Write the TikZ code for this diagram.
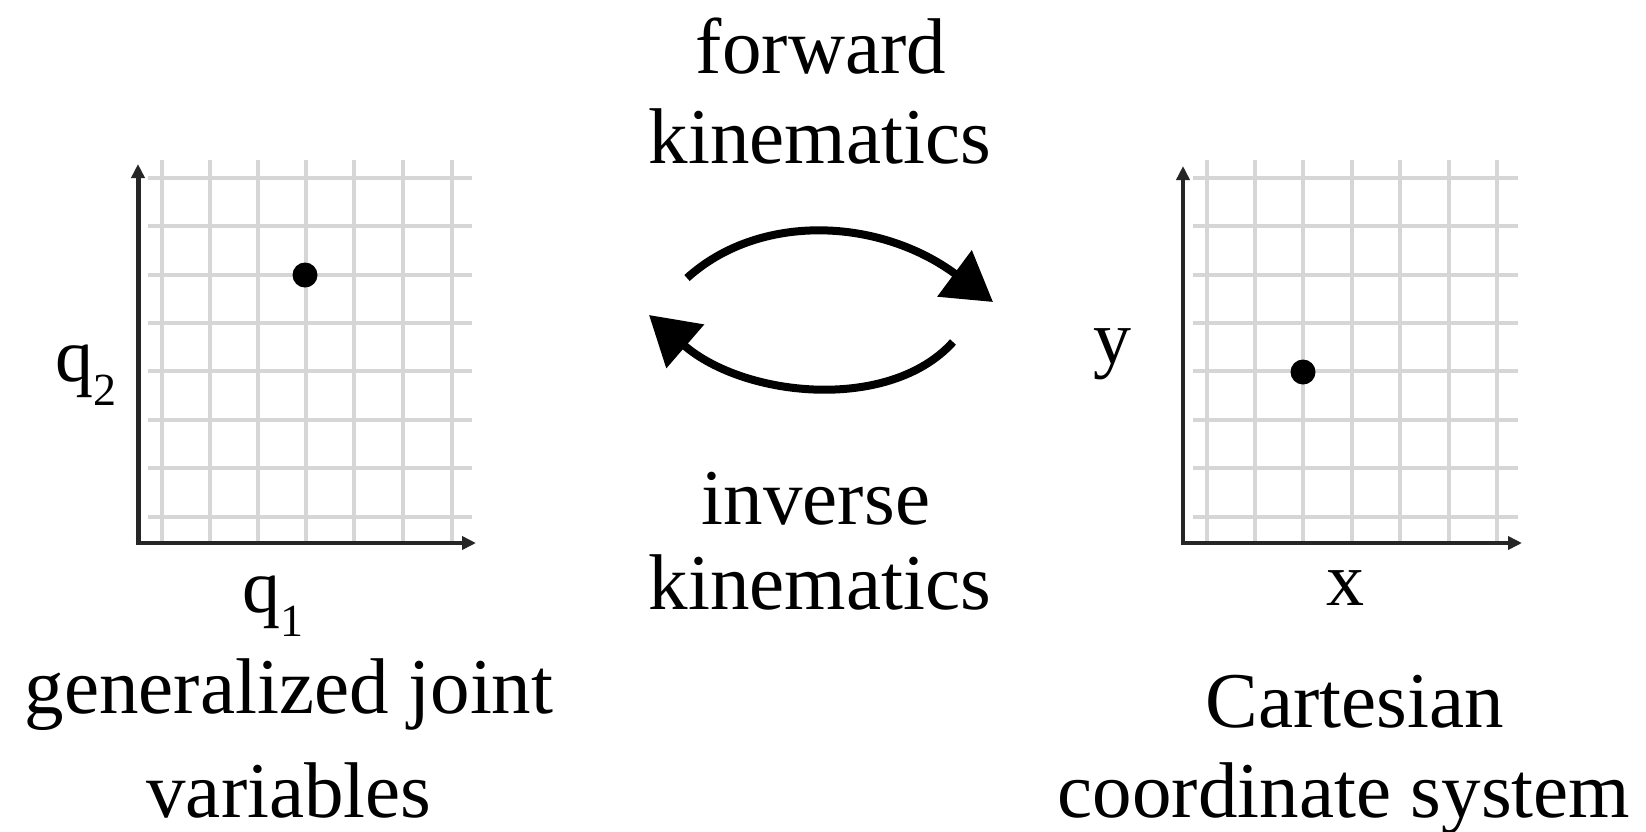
\documentclass[tikz,border=0pt]{standalone}
\usepackage{fontspec}
\setmainfont{Liberation Serif}
\usetikzlibrary{arrows.meta}
\begin{document}
\begin{tikzpicture}[x=1pt,y=-1pt,
  gridline/.style={draw=black!16,line width=3.5pt},
  axisline/.style={draw=black!85,line width=5pt,-{Triangle[length=14pt,width=13pt]}},
  bigarrow/.style={draw=black,line width=8pt,-{Triangle[length=48pt,width=56pt]}},
  lbl/.style={inner sep=0pt,anchor=base,font=\fontsize{79}{90}\selectfont},
  axlbl/.style={inner sep=0pt,font=\fontsize{76}{90}\selectfont},
  dot/.style={circle,fill=black,inner sep=0pt,minimum size=25pt}]
\useasboundingbox[fill=white] (0,0) rectangle (1646,831);
% left grid
\foreach \x in {162,210,258,306,354,403,452} \draw[gridline] (\x,160) -- (\x,541);
\foreach \y in {178,226,275,323,371,420,468,517} \draw[gridline] (148,\y) -- (472,\y);
% right grid
\foreach \x in {1207,1255,1303,1352,1400,1449,1497} \draw[gridline] (\x,160) -- (\x,541);
\foreach \y in {178,226,275,323,371,420,468,517} \draw[gridline] (1193,\y) -- (1518,\y);
% axes
\coordinate (lo) at (138,543);
\coordinate (ly) at (138,164);
\coordinate (lx) at (476,543);
\coordinate (ro) at (1183,543);
\coordinate (ry) at (1183,166);
\coordinate (rx) at (1522,543);
\draw[axisline] (lo) -- (ly);
\draw[axisline,line width=4.5pt] ([xshift=-2.5pt]lo) -- (lx);
\draw[axisline,line width=4pt] (ro) -- (ry);
\draw[axisline,line width=4pt] ([xshift=-2pt]ro) -- (rx);
% dots
\node[dot] (p1) at (305,275) {};
\node[dot] (p2) at (1303,372) {};
% axis labels
\node[axlbl] (q2) at (86,375) {q\raisebox{-0.32em}{\fontsize{46}{50}\selectfont 2}};
\node[axlbl] (q1) at (273,606) {q\raisebox{-0.32em}{\fontsize{46}{50}\selectfont 1}};
\node[axlbl] (yl) at (1112,354) {y};
\node[axlbl] (xl) at (1345,588) {x};
% arrows
\coordinate (fa) at (687,278);
\coordinate (fb) at (993,302);
\coordinate (ia) at (953,342);
\coordinate (ib) at (649,315);
\draw[bigarrow] (fa) .. controls (760,212) and (880,218) .. (fb);
\draw[bigarrow] (ia) .. controls (890,412) and (745,398) .. (ib);
% texts
\node[lbl] (t1) at (821,73) {forward};
\node[lbl] (t2) at (820,163) {kinematics};
\node[lbl] (t3) at (816,524) {inverse};
\node[lbl] (t4) at (820,609) {kinematics};
\node[lbl] (t5) at (289,713) {generalized joint};
\node[lbl] (t6) at (289,817) {variables};
\node[lbl] (t7) at (1355,727) {Cartesian};
\node[lbl] (t8) at (1344,817) {coordinate system};
\end{tikzpicture}
\end{document}
